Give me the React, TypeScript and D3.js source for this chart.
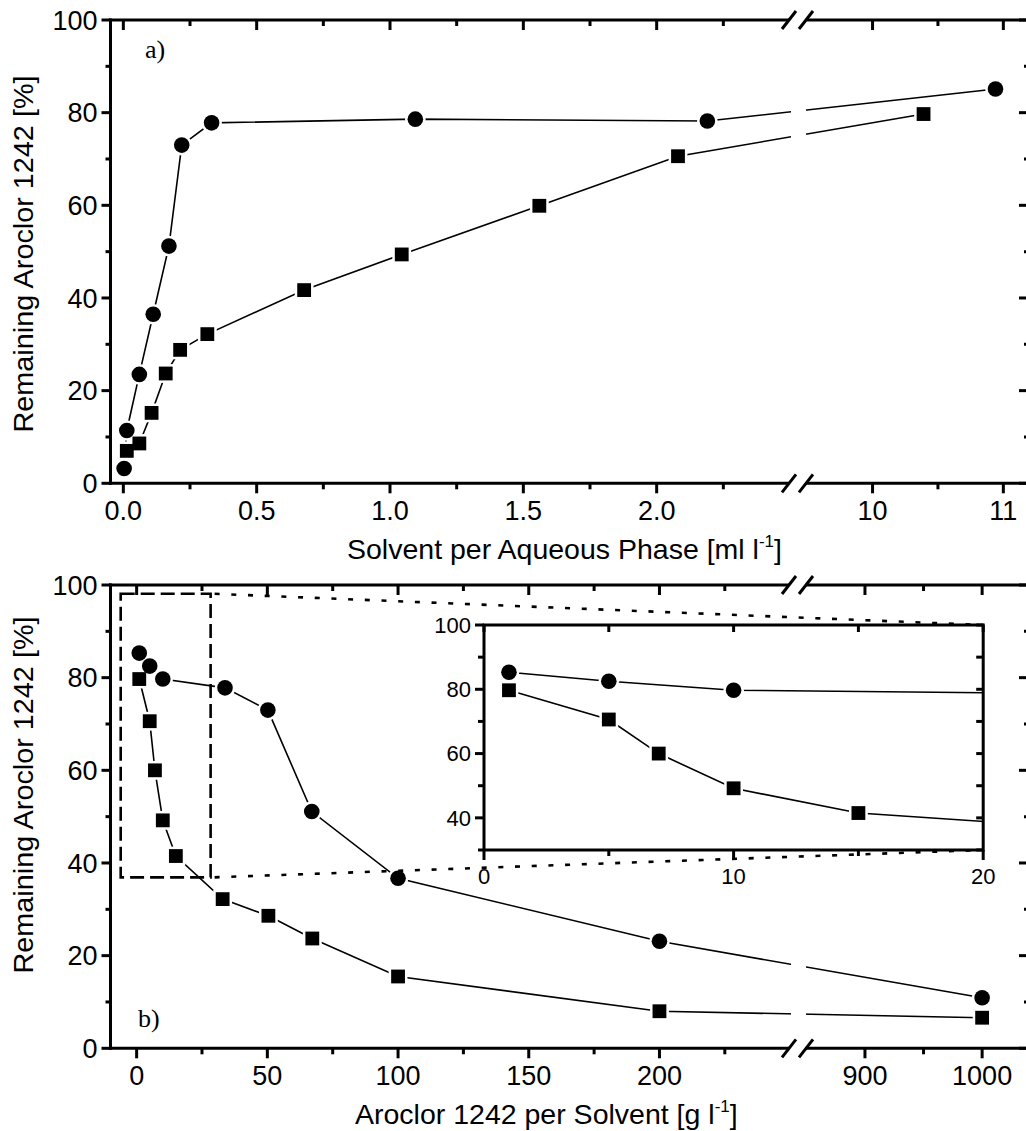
import React from "react";
import * as d3 from "d3";

// ---------------- data ----------------
// panel a) : Solvent per Aqueous Phase [ml/l]
const topCircleX = [0.003, 0.013, 0.06, 0.112, 0.171, 0.219, 0.331, 1.095, 2.19, 10.94];
const topCircleY = [3.2, 11.4, 23.5, 36.5, 51.2, 73.0, 77.8, 78.6, 78.2, 85.1];
const topSquareX = [0.013, 0.06, 0.106, 0.159, 0.213, 0.315, 0.678, 1.044, 1.56, 2.08, 10.39];
const topSquareY = [7.0, 8.6, 15.2, 23.7, 28.8, 32.2, 41.7, 49.4, 59.9, 70.6, 79.7];

// panel b) : Aroclor 1242 per Solvent [g/l]
const botCircleX = [1, 5, 10, 33.8, 50.2, 67, 100, 200, 1000];
const botCircleY = [85.3, 82.5, 79.7, 77.8, 73.0, 51.1, 36.7, 23.1, 10.9];
const botSquareX = [1, 5, 7, 10, 15, 32.9, 50.4, 67.2, 100, 200, 1000];
const botSquareY = [79.7, 70.6, 60.0, 49.2, 41.5, 32.2, 28.6, 23.7, 15.5, 8.0, 6.6];

// ticks
const yMajor = [0, 20, 40, 60, 80, 100];
const yMinor = [10, 30, 50, 70, 90];
const topMajor1 = [0, 0.5, 1.0, 1.5, 2.0];
const topMajor1Labels = ["0.0", "0.5", "1.0", "1.5", "2.0"];
const topMinor1 = [0.25, 0.75, 1.25, 1.75, 2.25];
const topMajor2 = [10, 11];
const topMajor2Labels = ["10", "11"];
const topMinor2 = [10.5];
const botMajor1 = [0, 50, 100, 150, 200];
const botMajor1Labels = ["0", "50", "100", "150", "200"];
const botMinor1 = [25, 75, 125, 175, 225];
const botMajor2 = [900, 1000];
const botMajor2Labels = ["900", "1000"];
const botMinor2 = [950];
const insetXMajor = [0, 10, 20];
const insetXMinor = [5, 15];
const insetYMajor = [40, 60, 80, 100];
const insetYMinor = [30, 50, 70, 90];
// zoom box in panel b (data units)
const zoomBoxX = [-6.1, 28.3];
const zoomBoxY = [36.9, 98.1];

// ---------------- layout ----------------
const SANS = "'Liberation Sans', Arial, Helvetica, sans-serif";
const SERIF = "'Liberation Serif', 'Times New Roman', serif";
const PL = 110.5;
const PR = 1029;
const BRK1 = 789;
const BRK2 = 806;
const GAP_L = 791;
const GAP_R = 806;

const xTop1 = d3.scaleLinear().domain([-0.05, 2.53]).range([110, 798]);
const xTop2 = d3.scaleLinear().domain([9.43, 11.2]).range([798, 1029.5]);
const yTop = d3.scaleLinear().domain([0, 100]).range([483.3, 20]);
const xBot1 = d3.scaleLinear().domain([-10, 252.5]).range([110.5, 796.7]);
const xBot2 = d3.scaleLinear().domain([842, 1040]).range([797, 1029]);
const yBot = d3.scaleLinear().domain([0, 100]).range([1048.3, 585]);
const xIn = d3.scaleLinear().domain([0, 20]).range([484, 983.2]);
const yIn = d3.scaleLinear().domain([30, 100]).range([850, 625]);

const fxTop = (v: number) => (v < 5 ? xTop1(v) : xTop2(v));
const fxBot = (v: number) => (v < 500 ? xBot1(v) : xBot2(v));

type Pt = [number, number];
const pts = (xs: number[], ys: number[], fx: (v: number) => number, fy: (v: number) => number): Pt[] =>
  xs.map((x, i) => [fx(x), fy(ys[i])] as Pt);

const lineGen = d3.line<Pt>().x((d) => d[0]).y((d) => d[1]);

const R_C = 7.8;
const S_S = 13.8;

function Halos({ circles, squares }: { circles: Pt[]; squares: Pt[] }) {
  return (
    <g fill="#fff">
      {circles.map((p, i) => (
        <circle key={"hc" + i} cx={p[0]} cy={p[1]} r={R_C + 2.5} />
      ))}
      {squares.map((p, i) => (
        <rect key={"hs" + i} x={p[0] - S_S / 2 - 2.5} y={p[1] - S_S / 2 - 2.5} width={S_S + 5} height={S_S + 5} />
      ))}
    </g>
  );
}

function Markers({ circles, squares }: { circles: Pt[]; squares: Pt[] }) {
  return (
    <g fill="#000">
      {circles.map((p, i) => (
        <circle key={"c" + i} cx={p[0]} cy={p[1]} r={R_C} />
      ))}
      {squares.map((p, i) => (
        <rect key={"s" + i} x={p[0] - S_S / 2} y={p[1] - S_S / 2} width={S_S} height={S_S} />
      ))}
    </g>
  );
}

function Slash({ cx, cy }: { cx: number; cy: number }) {
  return <line x1={cx - 7} y1={cy + 9} x2={cx + 7} y2={cy - 9} stroke="#000" strokeWidth={3} />;
}

type FrameProps = {
  T: number;
  B: number;
  fx: (v: number) => number;
  fy: (v: number) => number;
  major: number[];
  majorLabels: string[];
  minor: number[];
};

function Frame({ T, B, fx, fy, major, majorLabels, minor }: FrameProps) {
  const sw = 3;
  return (
    <g stroke="#000" strokeWidth={sw} fill="none">
      <line x1={PL} y1={T - 1.5} x2={PL} y2={B + 1.5} />
      <line x1={PR} y1={T - 1.5} x2={PR} y2={B + 1.5} />
      <line x1={PL - 1.5} y1={T} x2={BRK1} y2={T} />
      <line x1={BRK2} y1={T} x2={PR + 2} y2={T} />
      <line x1={PL - 1.5} y1={B} x2={BRK1} y2={B} />
      <line x1={BRK2} y1={B} x2={PR + 2} y2={B} />
      <Slash cx={BRK1} cy={T} />
      <Slash cx={BRK2} cy={T} />
      <Slash cx={BRK1} cy={B} />
      <Slash cx={BRK2} cy={B} />
      {yMajor.map((v) => (
        <g key={"ym" + v}>
          <line x1={PL - 9} x2={PL} y1={fy(v)} y2={fy(v)} />
          <line x1={PR - 10} x2={PR} y1={fy(v)} y2={fy(v)} />
        </g>
      ))}
      {yMinor.map((v) => (
        <g key={"yn" + v}>
          <line x1={PL - 5} x2={PL} y1={fy(v)} y2={fy(v)} />
          <line x1={PR - 5} x2={PR} y1={fy(v)} y2={fy(v)} />
        </g>
      ))}
      {major.map((v) => (
        <g key={"xm" + v}>
          <line x1={fx(v)} x2={fx(v)} y1={B} y2={B + 10} />
          <line x1={fx(v)} x2={fx(v)} y1={T} y2={T + 10} />
        </g>
      ))}
      {minor.map((v) => (
        <g key={"xn" + v}>
          <line x1={fx(v)} x2={fx(v)} y1={B} y2={B + 6} />
          <line x1={fx(v)} x2={fx(v)} y1={T} y2={T + 6} />
        </g>
      ))}
      <g stroke="none" fill="#000" fontFamily={SANS} fontSize={27}>
        {yMajor.map((v) => (
          <text key={"yl" + v} x={PL - 13} y={fy(v) + 9.7} textAnchor="end">
            {v}
          </text>
        ))}
        {major.map((v, i) => (
          <text key={"xl" + v} x={fx(v)} y={B + 37} textAnchor="middle">
            {majorLabels[i]}
          </text>
        ))}
      </g>
    </g>
  );
}

function Series({ circles, squares, clipId }: { circles: Pt[]; squares: Pt[]; clipId: string }) {
  return (
    <g>
      <g clipPath={`url(#${clipId})`} fill="none" stroke="#000" strokeWidth={1.6}>
        <path d={lineGen(circles) || ""} />
        <path d={lineGen(squares) || ""} />
      </g>
      <Halos circles={circles} squares={squares} />
      <Markers circles={circles} squares={squares} />
    </g>
  );
}

export default function App() {
  const topC = pts(topCircleX, topCircleY, fxTop, yTop);
  const topS = pts(topSquareX, topSquareY, fxTop, yTop);
  const botC = pts(botCircleX, botCircleY, fxBot, yBot);
  const botS = pts(botSquareX, botSquareY, fxBot, yBot);
  const inC = pts(botCircleX.filter((x) => x < 100), botCircleY.filter((_, i) => botCircleX[i] < 100), xIn, yIn);
  const inS = pts(botSquareX.filter((x) => x < 100), botSquareY.filter((_, i) => botSquareX[i] < 100), xIn, yIn);

  const bx0 = xBot1(zoomBoxX[0]);
  const bx1 = xBot1(zoomBoxX[1]);
  const by0 = yBot(zoomBoxY[1]);
  const by1 = yBot(zoomBoxY[0]);
  const iL = xIn(0);
  const iR = xIn(20);
  const iT = yIn(100);
  const iB = yIn(30);

  return (
    <svg
      width={1026}
      height={1131}
      viewBox="0 0 1026 1131"
      style={{ position: "absolute", left: 0, top: 0, background: "#fff" }}
    >
      <defs>
        <clipPath id="gapclip">
          <rect x={0} y={0} width={GAP_L} height={1131} />
          <rect x={GAP_R} y={0} width={1026 - GAP_R} height={1131} />
        </clipPath>
        <clipPath id="insetclip">
          <rect x={iL} y={iT} width={iR - iL} height={iB - iT} />
        </clipPath>
      </defs>
      <rect x={0} y={0} width={1026} height={1131} fill="#fff" />

      {/* ---------- panel a ---------- */}
      <Series circles={topC} squares={topS} clipId="gapclip" />
      <Frame
        T={yTop(100)}
        B={yTop(0)}
        fx={fxTop}
        fy={yTop}
        major={[...topMajor1, ...topMajor2]}
        majorLabels={[...topMajor1Labels, ...topMajor2Labels]}
        minor={[...topMinor1, ...topMinor2]}
      />
      <text x={145} y={58} fontFamily={SERIF} fontSize={26}>
        a)
      </text>
      <text
        transform="translate(33,254) rotate(-90)"
        textAnchor="middle"
        fontFamily={SANS}
        fontSize={27}
        textLength={357}
        lengthAdjust="spacingAndGlyphs"
      >
        Remaining Aroclor 1242 [%]
      </text>
      <text x={347} y={559} fontFamily={SANS} fontSize={28.5}>
        Solvent per Aqueous Phase [ml l
        <tspan dy={-12} fontSize={17}>
          -1
        </tspan>
        <tspan dy={12}>]</tspan>
      </text>

      {/* ---------- panel b ---------- */}
      <Series circles={botC} squares={botS} clipId="gapclip" />
      <Frame
        T={yBot(100)}
        B={yBot(0)}
        fx={fxBot}
        fy={yBot}
        major={[...botMajor1, ...botMajor2]}
        majorLabels={[...botMajor1Labels, ...botMajor2Labels]}
        minor={[...botMinor1, ...botMinor2]}
      />
      <text x={138} y={1027} fontFamily={SERIF} fontSize={26}>
        b)
      </text>
      <text
        transform="translate(33,795) rotate(-90)"
        textAnchor="middle"
        fontFamily={SANS}
        fontSize={27}
        textLength={357}
        lengthAdjust="spacingAndGlyphs"
      >
        Remaining Aroclor 1242 [%]
      </text>
      <text x={355} y={1124} fontFamily={SANS} fontSize={28.5}>
        Aroclor 1242 per Solvent [g l
        <tspan dy={-12} fontSize={17}>
          -1
        </tspan>
        <tspan dy={12}>]</tspan>
      </text>

      {/* zoom box + connectors */}
      <rect
        x={bx0}
        y={by0}
        width={bx1 - bx0}
        height={by1 - by0}
        fill="none"
        stroke="#000"
        strokeWidth={2.6}
        strokeDasharray="14 6"
      />
      <g stroke="#000" strokeWidth={2.6} strokeDasharray="5 11.7" fill="none">
        <line x1={bx1 + 4} y1={by0} x2={iR} y2={iT} />
        <line x1={bx1 + 4} y1={by1} x2={iR} y2={iB} />
      </g>

      {/* ---------- inset ---------- */}
      <rect x={iL} y={iT} width={iR - iL} height={iB - iT} fill="#fff" />
      <g clipPath="url(#insetclip)">
        <g fill="none" stroke="#000" strokeWidth={1.6}>
          <path d={lineGen(inC) || ""} />
          <path d={lineGen(inS) || ""} />
        </g>
        <Halos circles={inC} squares={inS} />
        <Markers circles={inC} squares={inS} />
      </g>
      <g stroke="#000" strokeWidth={3} fill="none">
        <rect x={iL} y={iT} width={iR - iL} height={iB - iT} />
        {insetYMajor.map((v) => (
          <g key={"iym" + v}>
            <line x1={iL - 9} x2={iL} y1={yIn(v)} y2={yIn(v)} />
            <line x1={iR - 7} x2={iR} y1={yIn(v)} y2={yIn(v)} />
          </g>
        ))}
        {insetYMinor.map((v) => (
          <g key={"iyn" + v}>
            <line x1={iL - 6} x2={iL} y1={yIn(v)} y2={yIn(v)} />
            <line x1={iR - 7} x2={iR} y1={yIn(v)} y2={yIn(v)} />
          </g>
        ))}
        {insetXMajor.map((v) => (
          <g key={"ixm" + v}>
            <line x1={xIn(v)} x2={xIn(v)} y1={iB} y2={iB + 10} />
            <line x1={xIn(v)} x2={xIn(v)} y1={iT} y2={iT + 7} />
          </g>
        ))}
        {insetXMinor.map((v) => (
          <g key={"ixn" + v}>
            <line x1={xIn(v)} x2={xIn(v)} y1={iB} y2={iB + 6} />
            <line x1={xIn(v)} x2={xIn(v)} y1={iT} y2={iT + 7} />
          </g>
        ))}
      </g>
      <g fill="#000" fontFamily={SANS} fontSize={22}>
        {insetYMajor.map((v) => (
          <text key={"iyl" + v} x={iL - 13} y={yIn(v) + 7.9} textAnchor="end">
            {v}
          </text>
        ))}
        {insetXMajor.map((v) => (
          <text key={"ixl" + v} x={xIn(v)} y={iB + 34} textAnchor="middle">
            {v}
          </text>
        ))}
      </g>
    </svg>
  );
}
